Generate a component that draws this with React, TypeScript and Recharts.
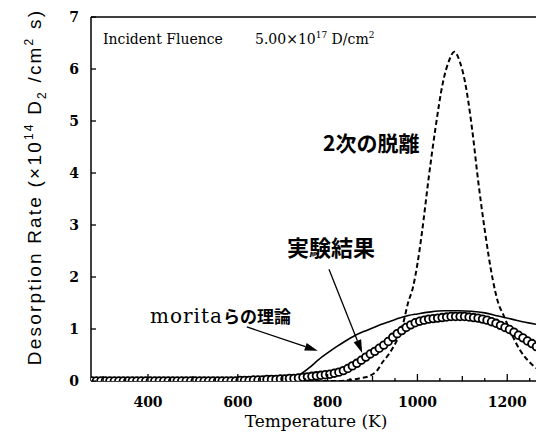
import { ComposedChart, Line, XAxis, YAxis, ReferenceLine } from "recharts";

// experiment (circles), K / 10^14 D2 cm^-2 s^-1
const expTemp = [
  275, 285, 295, 305, 315, 325, 335, 345, 355, 365,
  375, 385, 395, 405, 415, 425, 435, 445, 455, 465,
  475, 485, 495, 505, 515, 525, 535, 545, 555, 565,
  575, 585, 595, 605, 615, 625, 635, 645, 655, 665,
  675, 685, 695, 705, 715, 725, 735, 745, 755, 765,
  775, 785, 795, 805, 815, 825, 835, 845, 855, 865,
  875, 885, 895, 905, 915, 925, 935, 945, 955, 965,
  975, 985, 995, 1005, 1015, 1025, 1035, 1045, 1055, 1065,
  1075, 1085, 1095, 1105, 1115, 1125, 1135, 1145, 1155, 1165,
  1175, 1185, 1195, 1205, 1215, 1225, 1235, 1245, 1255, 1265,
];
const expRate = [
  0, 0, 0, 0, 0, 0, 0, 0, 0, 0,
  0, 0, 0, 0, 0, 0, 0, 0, 0, 0,
  0, 0, 0, 0, 0, 0, 0, 0, 0, 0,
  0, 0, 0, 0.01, 0.01, 0.01, 0.02, 0.02, 0.02, 0.03,
  0.03, 0.03, 0.04, 0.04, 0.05, 0.05, 0.06, 0.07, 0.08, 0.09,
  0.1, 0.11, 0.12, 0.13, 0.15, 0.17, 0.2, 0.24, 0.29, 0.34,
  0.4, 0.46, 0.52, 0.57, 0.63, 0.69, 0.76, 0.84, 0.91, 0.97,
  1.03, 1.08, 1.12, 1.15, 1.17, 1.19, 1.2, 1.21, 1.22, 1.23,
  1.24, 1.24, 1.24, 1.24, 1.23, 1.22, 1.21, 1.19, 1.17, 1.14,
  1.11, 1.07, 1.03, 0.99, 0.94, 0.88, 0.83, 0.77, 0.72, 0.66,
];

// morita theory (solid)
const theoryTemp = [273, 700, 720, 740, 760, 780, 800, 820, 840, 860, 880, 900, 920, 940, 960, 980, 1000, 1030, 1060, 1090, 1120, 1150, 1180, 1210, 1240, 1273];
const theoryRate = [0, 0, 0.04, 0.13, 0.26, 0.41, 0.54, 0.66, 0.77, 0.87, 0.95, 1.02, 1.09, 1.15, 1.21, 1.26, 1.29, 1.33, 1.35, 1.35, 1.34, 1.31, 1.25, 1.19, 1.13, 1.08];

// second-order desorption (dashed)
const secondTemp = [273, 820, 850, 870, 894, 910, 923, 935, 946, 958, 968, 979, 990, 1000, 1010, 1025, 1040, 1057, 1070, 1082, 1094, 1106, 1122, 1135, 1150, 1168, 1180, 1191, 1210, 1228, 1251, 1273];
const secondRate = [0, 0, 0.02, 0.05, 0.1, 0.2, 0.37, 0.5, 0.65, 0.85, 1.1, 1.5, 1.8, 2.25, 2.85, 3.9, 4.85, 5.75, 6.15, 6.33, 6.15, 5.75, 4.83, 3.87, 2.9, 1.94, 1.5, 1.28, 0.9, 0.6, 0.35, 0.2];

const xTicks = [300, 350, 400, 450, 500, 550, 600, 650, 700, 750, 800, 850, 900, 950, 1000, 1050, 1100, 1150, 1200, 1250];
const xLabels = [400, 600, 800, 1000, 1200];
const yTicks = [0, 1, 2, 3, 4, 5, 6, 7];

// annotation arrows: tail -> head, in data units
const arrows = [
  { from: { x: 620, y: 1.04 }, to: { x: 778, y: 0.58 } },
  { from: { x: 803, y: 2.15 }, to: { x: 877, y: 0.54 } },
];

const expData = expTemp.map((t, i) => ({ t, v: expRate[i] }));
const theoryData = theoryTemp.map((t, i) => ({ t, v: theoryRate[i] }));
const secondData = secondTemp.map((t, i) => ({ t, v: secondRate[i] }));

const SERIF = '"DejaVu Serif", serif';
const CJK = '"Noto Sans CJK JP", sans-serif';

function XTick(props: any) {
  const { x, y, payload } = props;
  const v = payload.value;
  const len = v % 200 === 0 ? 7 : v % 100 === 0 ? 5 : 3;
  return (
    <g>
      <line x1={x} y1={y} x2={x} y2={y - len} stroke="#000" strokeWidth={1.3} />
      {xLabels.includes(v) && (
        <text x={x} y={y + 26} textAnchor="middle" fontFamily={SERIF} fontWeight={700} fontSize={14} fill="#000">
          {v}
        </text>
      )}
    </g>
  );
}

function YTick(props: any) {
  const { x, y, payload } = props;
  return (
    <g>
      <line x1={x} y1={y} x2={x + 5} y2={y} stroke="#000" strokeWidth={1.3} />
      <text x={x - 12} y={y + 5} textAnchor="end" fontFamily={SERIF} fontWeight={700} fontSize={14} fill="#000">
        {payload.value}
      </text>
    </g>
  );
}

function Arrow(props: any) {
  const { x1, y1, x2, y2 } = props;
  const a = Math.atan2(y2 - y1, x2 - x1);
  const len = 13;
  const half = 4;
  const bx = x2 - len * Math.cos(a);
  const by = y2 - len * Math.sin(a);
  const px = -Math.sin(a) * half;
  const py = Math.cos(a) * half;
  return (
    <g>
      <line x1={x1} y1={y1} x2={bx} y2={by} stroke="#000" strokeWidth={1.3} />
      <polygon points={`${x2},${y2} ${bx + px},${by + py} ${bx - px},${by - py}`} fill="#000" />
    </g>
  );
}

export default function App() {
  return (
    <div style={{ position: "absolute", left: 0, top: 0, width: 536, height: 435, overflow: "hidden", background: "#fff" }}>
      <ComposedChart width={560} height={435} margin={{ top: 17, right: 20, bottom: 0, left: 0 }}>
        <XAxis
          type="number"
          dataKey="t"
          domain={[273, 1273]}
          ticks={xTicks}
          interval={0}
          height={54}
          tickSize={0}
          tickMargin={0}
          tick={<XTick />}
          stroke="#000"
          strokeWidth={1.5}
          allowDataOverflow
        />
        <YAxis
          type="number"
          domain={[0, 7]}
          ticks={yTicks}
          interval={0}
          width={91}
          tickSize={0}
          tickMargin={0}
          tick={<YTick />}
          stroke="#000"
          strokeWidth={1.5}
          allowDataOverflow
        />
        <ReferenceLine y={7} stroke="#000" strokeWidth={1.5} ifOverflow="visible" />
        <Line
          data={expData}
          dataKey="v"
          stroke="none"
          dot={{ r: 3.8, fill: "#fff", stroke: "#000", strokeWidth: 1.8 }}
          isAnimationActive={false}
        />
        <Line data={theoryData} dataKey="v" type="monotone" stroke="#000" strokeWidth={1.6} dot={false} isAnimationActive={false} />
        <Line
          data={secondData}
          dataKey="v"
          type="monotone"
          stroke="#000"
          strokeWidth={2}
          strokeDasharray="5 3"
          dot={false}
          isAnimationActive={false}
        />
        {arrows.map((ar, i) => (
          <ReferenceLine key={i} segment={[ar.from, ar.to]} ifOverflow="visible" shape={(p: any) => <Arrow {...p} />} />
        ))}
      </ComposedChart>
      <svg width={536} height={435} style={{ position: "absolute", left: 0, top: 0, pointerEvents: "none" }}>
        <text x={103} y={44} fontFamily={SERIF} fontSize={14} fill="#000">Incident Fluence</text>
        <text x={255} y={44} fontFamily={SERIF} fontSize={14} fill="#000">
          5.00×10<tspan dy={-6} fontSize={9}>17</tspan>
          <tspan dy={6}> D/cm</tspan>
          <tspan dy={-6} fontSize={9}>2</tspan>
        </text>
        <text x={323} y={151} fontFamily={CJK} fontWeight={700} fontSize={21} fill="#000">2次の脱離</text>
        <text x={287} y={256} fontFamily={CJK} fontWeight={700} fontSize={22} fill="#000">実験結果</text>
        <text x={150} y={323} fill="#000">
          <tspan fontFamily={SERIF} fontSize={20} letterSpacing={1}>morita</tspan>
          <tspan fontFamily={CJK} fontWeight={700} fontSize={17}>らの理論</tspan>
        </text>
        <text x={316} y={427} textAnchor="middle" fontFamily={SERIF} fontSize={17} fill="#000">Temperature (K)</text>
        <text
          transform="translate(41,187) rotate(-90)"
          textAnchor="middle"
          fontFamily='"Liberation Sans", Arial, sans-serif'
          fontSize={19}
          letterSpacing={2.2}
          fill="#000"
        >
          Desorption Rate (×10<tspan dy={-8} fontSize={12}>14</tspan>
          <tspan dy={8}> D</tspan>
          <tspan dy={5} fontSize={12}>2</tspan>
          <tspan dy={-5}>  /cm</tspan>
          <tspan dy={-8} fontSize={12}>2</tspan>
          <tspan dy={8}> s)</tspan>
        </text>
      </svg>
    </div>
  );
}
